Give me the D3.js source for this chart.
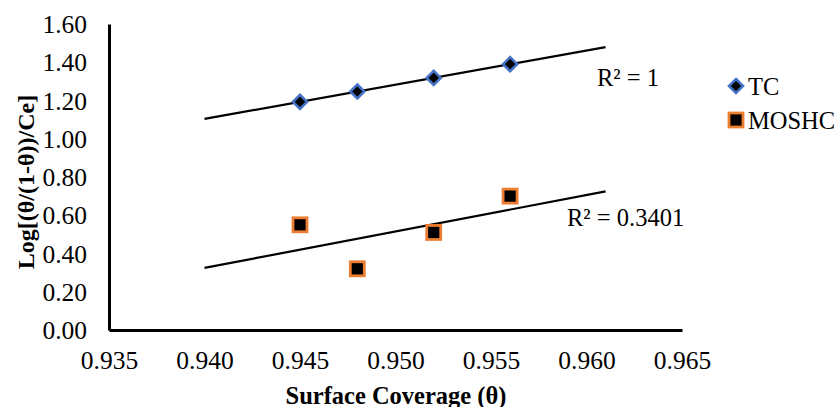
<!DOCTYPE html>
<html>
<head>
<meta charset="utf-8">
<script src="https://cdn.jsdelivr.net/npm/d3@7"></script>
<style>
  html, body { margin: 0; padding: 0; background: #fff; }
  svg { display: block; font-family: "Liberation Serif", "Times New Roman", serif; }
</style>
</head>
<body>
<svg id="chart" width="838" height="407"></svg>
<script>
// Surface coverage values (x) shared by both series
const coverage = [0.945, 0.948, 0.952, 0.956];
// Log[(θ/(1-θ))/Ce] for each inhibitor
const tcValues = [1.193, 1.247, 1.318, 1.390];
const moshcValues = [0.55, 0.32, 0.51, 0.70];
const seriesNames = ["TC", "MOSHC"];
const r2Labels = ["R² = 1", "R² = 0.3401"];
const xTicks = [0.935, 0.940, 0.945, 0.950, 0.955, 0.960, 0.965];
const yTicks = [0, 0.2, 0.4, 0.6, 0.8, 1.0, 1.2, 1.4, 1.6];

const svg = d3.select("#chart");
const x = d3.scaleLinear().domain([0.935, 0.965]).range([109, 682]);
const y = d3.scaleLinear().domain([0, 1.6]).range([330, 24]);

// Least-squares linear fit
function fit(xs, ys) {
  const n = xs.length;
  const mx = d3.mean(xs), my = d3.mean(ys);
  let sxy = 0, sxx = 0;
  for (let i = 0; i < n; i++) { sxy += (xs[i] - mx) * (ys[i] - my); sxx += (xs[i] - mx) ** 2; }
  const b = sxy / sxx;
  return v => my + b * (v - mx);
}

// Axes (no tick marks, serif labels)
const xAxis = svg.append("g").attr("transform", "translate(0,330)")
  .call(d3.axisBottom(x).tickValues(xTicks).tickFormat(d3.format(".3f")).tickSize(0).tickPadding(21));
xAxis.select(".domain").attr("stroke", "#000").attr("stroke-width", 3);
xAxis.selectAll("text").attr("font-size", 25.5).attr("font-family", "Liberation Serif").attr("fill", "#000").attr("dy", "0.72em");

const yAxis = svg.append("g").attr("transform", "translate(109,0)")
  .call(d3.axisLeft(y).tickValues(yTicks).tickFormat(d3.format(".2f")).tickSize(0).tickPadding(22));
yAxis.select(".domain").attr("stroke", "#000").attr("stroke-width", 3);
yAxis.selectAll("text").attr("font-size", 25.5).attr("font-family", "Liberation Serif").attr("fill", "#000").attr("dy", "0.34em");

// Trendlines extended 0.005 on each side of the data
const series = [
  { name: seriesNames[0], ys: tcValues, color: "#4472C4", shape: "diamond" },
  { name: seriesNames[1], ys: moshcValues, color: "#ED7D31", shape: "square" }
];
const line = d3.line().x(d => x(d[0])).y(d => y(d[1]));
series.forEach(s => {
  const f = fit(coverage, s.ys);
  const x0 = d3.min(coverage) - 0.005, x1 = d3.max(coverage) + 0.005;
  svg.append("path").datum([[x0, f(x0)], [x1, f(x1)]])
    .attr("d", line).attr("fill", "none").attr("stroke", "#000").attr("stroke-width", 2.2);
});

// Markers
function marker(g, s, cx, cy) {
  if (s.shape === "diamond") {
    g.append("path").attr("transform", `translate(${cx},${cy})`)
      .attr("d", "M0,-7L7,0L0,7L-7,0Z")
      .attr("fill", "#000").attr("stroke", s.color).attr("stroke-width", 2.6);
  } else {
    g.append("rect").attr("x", cx - 7).attr("y", cy - 7).attr("width", 14).attr("height", 14)
      .attr("fill", "#000").attr("stroke", s.color).attr("stroke-width", 2.8);
  }
}
series.forEach(s => {
  const g = svg.append("g");
  coverage.forEach((c, i) => marker(g, s, x(c), y(s.ys[i])));
});

// R² annotations
svg.append("text").attr("x", 597).attr("y", 86).attr("font-size", 24.5).text(r2Labels[0]);
svg.append("text").attr("x", 567).attr("y", 226).attr("font-size", 24.5).text(r2Labels[1]);

// Legend
const legend = svg.append("g");
series.forEach((s, i) => {
  const cy = 86 + i * 34;
  marker(legend, s, 736, cy);
  legend.append("text").attr("x", 748).attr("y", cy + 9).attr("font-size", 24.5).text(s.name);
});

// Axis titles
svg.append("text").attr("x", 396).attr("y", 404).attr("text-anchor", "middle")
  .attr("font-size", 24.5).attr("font-weight", "bold").text("Surface Coverage (θ)");
svg.append("text").attr("transform", "translate(34,182) rotate(-90)").attr("text-anchor", "middle")
  .attr("font-size", 24).attr("font-weight", "bold").text("Log[(θ/(1-θ))/Ce]");
</script>
</body>
</html>
